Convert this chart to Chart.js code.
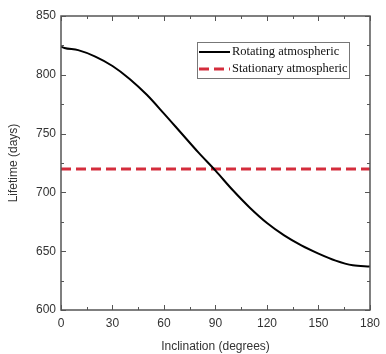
<!DOCTYPE html>
<html>
<head>
<meta charset="UTF-8">
<title>Lifetime vs inclination</title>
<script src="https://cdn.jsdelivr.net/npm/chart.js"></script>
<style>
  html, body { margin: 0; padding: 0; background: #fff; }
  canvas { display: block; }
</style>
</head>
<body>
<canvas id="lifeChart" width="386" height="354"></canvas>
<script>
// values
const inclination = [0, 2, 10, 20, 30, 40, 50, 60, 70, 80, 90, 100, 110, 120, 130, 140, 150, 160, 170, 180];
const rotating = [824, 822.8, 821, 815.5, 807.5, 796.5, 783, 767, 750.5, 734, 718.5, 702, 687, 674, 663.5, 655, 648, 642, 638, 637];
const stationaryX = [0, 180];
const stationary = [720, 720];
const xTicks = [0, 30, 60, 90, 120, 150, 180];
const yTicks = [600, 650, 700, 750, 800, 850];
const seriesNames = ['Rotating atmospheric', 'Stationary atmospheric'];

const toPoints = (xs, ys) => xs.map((x, i) => ({ x: x, y: ys[i] }));

const frameColor = '#555';

// inward ticks on all four sides + box frame
const frameTicks = {
  id: 'frameTicks',
  afterDatasetsDraw(chart) {
    const { ctx, chartArea: a, scales } = chart;
    ctx.save();
    ctx.strokeStyle = frameColor;
    ctx.lineWidth = 1;
    const xs = scales.x, ys = scales.y;
    for (let v = 0; v <= 180; v += 15) {
      const px = Math.round(xs.getPixelForValue(v)) + 0.5;
      const len = v % 30 === 0 ? 5 : 3;
      ctx.beginPath();
      ctx.moveTo(px, a.bottom); ctx.lineTo(px, a.bottom - len);
      ctx.moveTo(px, a.top); ctx.lineTo(px, a.top + len);
      ctx.stroke();
    }
    for (let v = 600; v <= 850; v += 25) {
      const py = Math.round(ys.getPixelForValue(v)) + 0.5;
      const len = v % 50 === 0 ? 5 : 3;
      ctx.beginPath();
      ctx.moveTo(a.left, py); ctx.lineTo(a.left + len, py);
      ctx.moveTo(a.right, py); ctx.lineTo(a.right - len, py);
      ctx.stroke();
    }
    ctx.lineWidth = 1.5;
    ctx.strokeRect(a.left, a.top, a.right - a.left, a.bottom - a.top);
    ctx.restore();
  }
};

// boxed legend inside the plot, top right
const boxLegend = {
  id: 'boxLegend',
  afterDraw(chart) {
    const { ctx } = chart;
    const bx = 197, by = 42, bw = 152, bh = 36;
    ctx.save();
    ctx.fillStyle = '#fff';
    ctx.fillRect(bx, by, bw, bh);
    ctx.strokeStyle = '#777';
    ctx.lineWidth = 1;
    ctx.strokeRect(bx + 0.5, by + 0.5, bw, bh);
    ctx.font = '12.5px "Liberation Serif", "Times New Roman", serif';
    ctx.textBaseline = 'middle';
    chart.data.datasets.forEach((ds, i) => {
      const cy = by + 10 + i * 17;
      ctx.strokeStyle = ds.borderColor;
      ctx.lineWidth = ds.borderWidth;
      ctx.setLineDash(ds.borderDash || []);
      ctx.beginPath();
      ctx.moveTo(bx + 2, cy);
      ctx.lineTo(bx + 33, cy);
      ctx.stroke();
      ctx.setLineDash([]);
      ctx.fillStyle = '#111';
      ctx.fillText(ds.label, bx + 35, cy);
    });
    ctx.restore();
  }
};

const tickFont = { family: '"Liberation Sans", Arial, sans-serif', size: 12 };

new Chart(document.getElementById('lifeChart'), {
  type: 'line',
  data: {
    datasets: [
      {
        label: seriesNames[0],
        data: toPoints(inclination, rotating),
        borderColor: '#000',
        borderWidth: 2,
        pointRadius: 0,
        cubicInterpolationMode: 'monotone',
        fill: false
      },
      {
        label: seriesNames[1],
        data: toPoints(stationaryX, stationary),
        borderColor: '#d42d3c',
        borderWidth: 3,
        borderDash: [10, 5],
        pointRadius: 0,
        fill: false
      }
    ]
  },
  options: {
    responsive: false,
    animation: false,
    layout: { padding: { top: 16, right: 9, left: 0, bottom: 0 } },
    plugins: {
      legend: { display: false },
      tooltip: { enabled: false }
    },
    scales: {
      x: {
        type: 'linear',
        min: 0,
        max: 180,
        afterBuildTicks: s => { s.ticks = xTicks.map(v => ({ value: v })); },
        afterFit: s => { s.height = 44; },
        grid: { display: false, drawTicks: false },
        border: { display: false },
        ticks: { color: '#333', font: tickFont, padding: 6, maxRotation: 0 },
        title: {
          display: true,
          text: 'Inclination (degrees)',
          color: '#333',
          font: tickFont,
          padding: { top: 6, bottom: 0 }
        }
      },
      y: {
        min: 600,
        max: 850,
        afterBuildTicks: s => { s.ticks = yTicks.map(v => ({ value: v })); },
        afterFit: s => { s.width = 61; },
        grid: { display: false, drawTicks: false },
        border: { display: false },
        ticks: { color: '#333', font: tickFont, padding: 5 },
        title: {
          display: true,
          text: 'Lifetime (days)',
          color: '#333',
          font: tickFont,
          padding: { top: 6, bottom: 2 }
        }
      }
    }
  },
  plugins: [frameTicks, boxLegend]
});
</script>
</body>
</html>
